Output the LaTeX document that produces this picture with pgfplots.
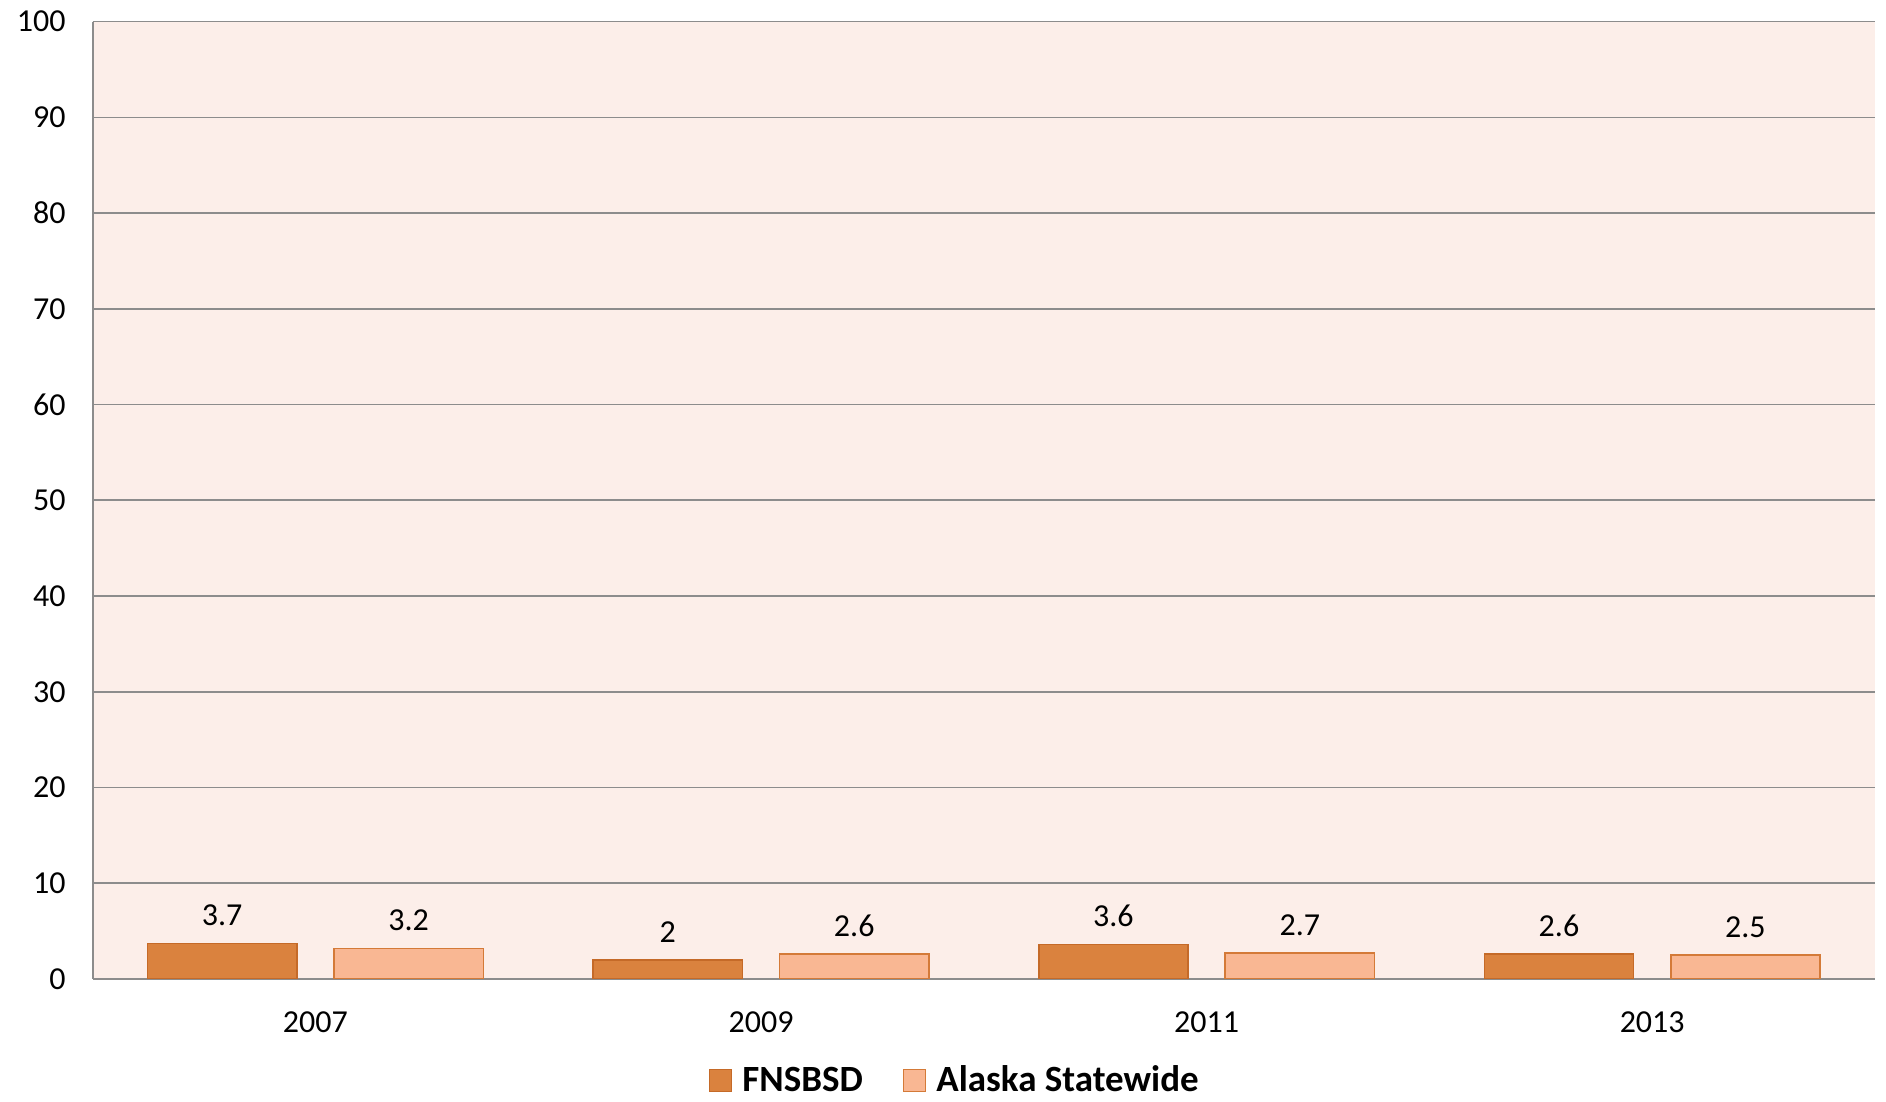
\documentclass[border=0pt]{standalone}
\usepackage{pgfplots}
\pgfplotsset{compat=1.18}
\usepackage{fontspec}
\setmainfont{Carlito}

\definecolor{fnsb}{HTML}{DA823E}
\definecolor{fnsbline}{HTML}{C56A28}
\definecolor{akfill}{HTML}{F9B793}
\definecolor{akline}{HTML}{D47A38}
\definecolor{plotbg}{HTML}{FCEEE9}
\definecolor{gridc}{HTML}{8C8C8C}

\begin{document}
\begin{tikzpicture}
\useasboundingbox (-46.3pt,-61.5pt) rectangle (896.5pt,489.35pt);
\begin{axis}[
  at={(0,0)}, anchor=south west,
  scale only axis,
  width=891pt, height=478.5pt,
  /pgf/number format/assume math mode=true,
  font=\fontsize{16}{19}\selectfont,
  axis background/.style={fill=plotbg},
  axis x line*=bottom, axis y line*=left,
  axis line style={draw=gridc, line width=0.9pt},
  xmin=-0.5, xmax=3.5,
  ymin=0, ymax=100,
  ytick={0,10,...,100},
  ymajorgrids, grid style={draw=gridc, line width=0.8pt},
  major tick length=0pt,
  xtick={0,1,2,3},
  xticklabels={2007,2009,2011,2013},
  xticklabel style={yshift=-13pt},
  yticklabel style={xshift=-10pt},
  ybar, bar width=74.6pt,
  nodes near coords,
  nodes near coords style={font=\fontsize{16}{19}\selectfont, text=black, yshift=5pt},
  legend columns=2,
  legend style={draw=none, fill=none, at={(0.4843,-0.1060)}, anchor=center,
    font=\fontsize{18.5}{21}\selectfont\bfseries,
    /tikz/every odd column/.append style={column sep=3pt},
    /tikz/every even column/.append style={column sep=18pt}},
  legend image code/.code={\draw[#1] (0pt,-5.5pt) rectangle (11pt,5.5pt);},
]
\addplot[fill=fnsb, draw=fnsbline, line width=0.75pt, bar shift=-46.6pt] coordinates {
(0,3.7) (1,2) (2,3.6) (3,2.6)
};
\addlegendentry{FNSBSD}
\addplot[fill=akfill, draw=akline, line width=0.75pt, bar shift=46.6pt] coordinates {
(0,3.2) (1,2.6) (2,2.7) (3,2.5)
};
\addlegendentry{Alaska Statewide}
\end{axis}
\end{tikzpicture}
\end{document}
